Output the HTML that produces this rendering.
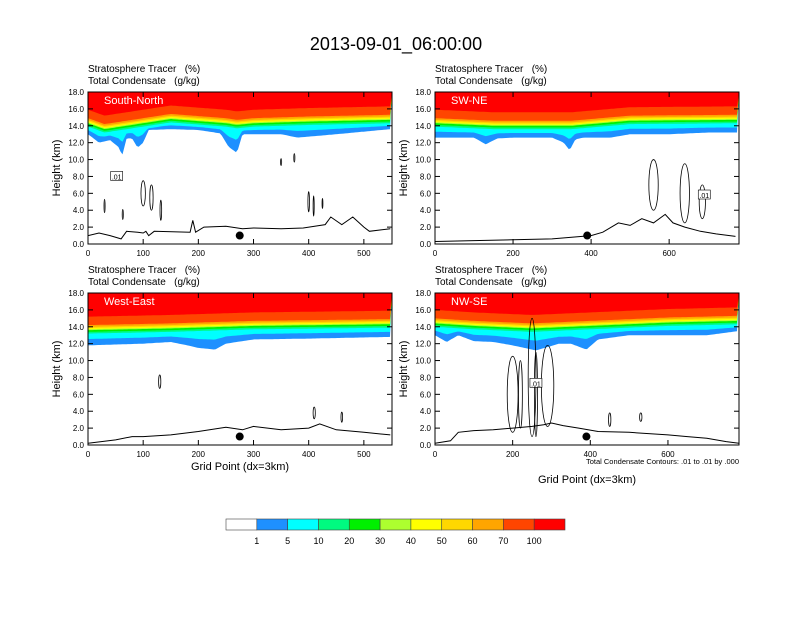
<!DOCTYPE html>
<html><head><meta charset="utf-8">
<style>
body{margin:0;background:#fff;width:792px;height:612px;overflow:hidden}
svg text{font-family:"Liberation Sans",Arial,sans-serif;fill:#000;white-space:pre}
</style></head>
<body>
<svg id="chart" width="792" height="612" viewBox="0 0 792 612" xmlns="http://www.w3.org/2000/svg">
<text x="396" y="50" font-size="18" text-anchor="middle">2013-09-01_06:00:00</text>
</svg>
<script>
const levels=[1,5,10,20,30,40,50,60,70,100];
const colors=["#ffffff","#1e90ff","#00ffff","#00fa80","#00f000","#adff2f","#ffff00","#ffd700","#ffa500","#ff4500","#ff0000"];
const bandOffsets=[0,0,0.3,0.5,0.7,0.82,0.95,1.1,1.3,2.3];
const yTicks=[0,2,4,6,8,10,12,14,16,18];

const tlBlueX=[0,20,40,55,62,70,80,90,100,110,150,200,240,255,270,280,300,350,380,450,548];
const tlBlueH=[13,12,12.3,11.5,10.5,12.5,12.5,11.4,12,13.5,13.6,13.5,13.1,11.5,10.8,13,13,13,12.6,13,13.6];
const tlCoreX=[0,30,60,100,150,250,270,300,400,548];
const tlCoreH=[13.6,12.9,13.2,13.6,14.1,13.6,13.4,13.6,13.8,14];
const tlTerrX=[0,20,40,60,70,90,100,105,110,120,185,190,195,210,250,280,300,350,390,430,440,460,480,500,510,548];
const tlTerrH=[1,1.3,1,0.6,1.5,1.4,1.3,1.5,1,1.5,1.4,2.8,1.4,2,2.1,1.8,1.9,1.8,1.9,2.3,3.2,2.3,3.2,2,1.5,1.8];

const trBlueX=[0,100,130,160,200,300,330,345,360,380,450,500,600,700,770];
const trBlueH=[12.6,12.6,11.8,12.5,12.6,12.6,12,11.1,12.4,12.6,12.6,13,13,13.2,13.2];
const trCoreX=[0,150,350,500,770];
const trCoreH=[13.6,13.3,13.3,13.9,14];
const trTerrX=[0,100,200,300,350,400,430,470,500,530,560,590,610,640,680,720,770];
const trTerrH=[0.3,0.4,0.5,0.6,0.8,1,1.4,2.5,2.2,3,2.5,3.5,2.5,2,1.5,1.2,0.9];

const blBlueX=[0,100,150,180,200,230,250,300,400,548];
const blBlueH=[11.8,12,12.2,11.8,11.5,11.3,12,12.5,12.6,12.8];
const blCoreX=[0,150,300,548];
const blCoreH=[12.9,13.1,13.4,13.6];
const blTerrX=[0,50,80,100,150,200,250,280,300,350,400,420,450,500,548];
const blTerrH=[0.2,0.6,1,1,1.2,1.6,2.1,1.8,2.2,1.8,2,2.5,1.8,1.5,1.2];

const brBlueX=[0,30,60,100,150,200,230,260,290,320,350,390,420,500,600,700,783];
const brBlueH=[13,12.2,13,12.3,12.2,11.8,11.5,11.2,11.6,12,12,11.3,12.5,13,13,13,13.5];
const brCoreX=[0,100,250,400,600,783];
const brCoreH=[13.7,13.4,13.1,13.4,13.8,14];
const brTerrX=[0,40,60,100,150,200,250,280,300,330,370,420,500,600,650,700,750,783];
const brTerrH=[0.2,0.5,1.5,1.7,1.8,2,2.2,2.4,2.6,2.3,2,1.6,1.5,1.2,1,0.8,0.4,0.2];

const panels=[
 {name:"south-north",label:"South-North",x0:88,y0:92,xmax:551,xt:[0,100,200,300,400,500],bx:tlBlueX,bh:tlBlueH,cx:tlCoreX,ch:tlCoreH,tx:tlTerrX,th:tlTerrH,dot:275,
  cont:[[30,4.5,1,0.8],[63,3.5,1,0.6],[100,6,4,1.5],[115,5.5,3,1.5],[132,4,1.5,1.2],[350,9.7,1,0.4],[374,10.2,1,0.5],[400,5,1.4,1.2],[409,4.5,1,1.2],[425,4.8,0.8,0.6]],lab:[52,8]},
 {name:"sw-ne",label:"SW-NE",x0:435,y0:92,xmax:779,xt:[0,200,400,600],bx:trBlueX,bh:trBlueH,cx:trCoreX,ch:trCoreH,tx:trTerrX,th:trTerrH,dot:390,
  cont:[[560,7,12,3],[640,6,12,3.5],[685,5,8,2]],lab:[690,5.8]},
 {name:"west-east",label:"West-East",x0:88,y0:293,xmax:551,xt:[0,100,200,300,400,500],bx:blBlueX,bh:blBlueH,cx:blCoreX,ch:blCoreH,tx:blTerrX,th:blTerrH,dot:275,
  cont:[[130,7.5,2,0.8],[410,3.8,2,0.7],[460,3.3,1.5,0.6]],lab:null},
 {name:"nw-se",label:"NW-SE",x0:435,y0:293,xmax:783,xt:[0,200,400,600],bx:brBlueX,bh:brBlueH,cx:brCoreX,ch:brCoreH,tx:brTerrX,th:brTerrH,dot:390,
  cont:[[200,6,14,4.5],[250,8,10,7],[290,7,16,4.8],[220,6,5,4],[260,6,4,5],[450,3,3,0.8],[530,3.3,3,0.5]],lab:[260,7.3]}
];
const NS="http://www.w3.org/2000/svg";
const svg=document.getElementById('chart');
function mk(tag,attrs,parent){const e=document.createElementNS(NS,tag);for(const k in attrs)e.setAttribute(k,attrs[k]);(parent||svg).appendChild(e);return e;}
function interp(xs,hs,x){if(x<=xs[0])return hs[0];for(let i=1;i<xs.length;i++){if(x<=xs[i]){const t=(x-xs[i-1])/(xs[i]-xs[i-1]);return hs[i-1]+t*(hs[i]-hs[i-1]);}}return hs[hs.length-1];}

panels.forEach(p=>{
 const W=304,H=152;
 const sx=v=>p.x0+v*W/p.xmax, sy=h=>p.y0+H-h*H/18;
 const g=mk('g',{});
 
 
 const clipId='clip-'+p.name;
 const cp=mk('clipPath',{id:clipId},g);mk('rect',{x:p.x0,y:p.y0,width:W,height:H},cp);
 const pg=mk('g',{'clip-path':'url(#'+clipId+')'},g);
 for(let b=0;b<bandOffsets.length;b++){
  let pts=[];
  for(let x=0;x<=p.xmax;x+=p.xmax/150){
   const bb=interp(p.bx,p.bh,x), cc=interp(p.cx,p.ch,x);
   let h = b===0 ? bb : (b===1? Math.min(cc,(bb+cc)/2+0.2) : cc+bandOffsets[b]);
   pts.push(sx(x).toFixed(1)+','+sy(h).toFixed(1));
  }
  pts.push(sx(p.xmax)+','+sy(18));pts.push(sx(0)+','+sy(18));
  const poly=mk('polygon',{points:pts.join(' '),fill:colors[b+1]},pg);
  
  
 }
 p.cont.forEach(c=>{
  const e=mk('ellipse',{cx:sx(c[0]),cy:sy(c[1]),rx:c[2]*W/p.xmax,ry:c[3]*H/18,fill:'none',stroke:'#000','stroke-width':0.8},pg);
  
  
 });
 if(p.lab){const lx=sx(p.lab[0]),ly=sy(p.lab[1]);
  mk('rect',{x:lx-6,y:ly-5,width:12,height:9,fill:'#fff',stroke:'#000','stroke-width':0.6},pg);
  const t=mk('text',{x:lx,y:ly+3,'font-size':7,'text-anchor':'middle'},pg);t.textContent='.01';
  
  }
 let tp=[];p.tx.forEach((x,i)=>tp.push(sx(x).toFixed(1)+','+sy(p.th[i]).toFixed(1)));
 const tl=mk('polyline',{points:tp.join(' '),fill:'none',stroke:'#000','stroke-width':1},pg);
 
 
 const d=mk('circle',{cx:sx(p.dot),cy:sy(1),r:4,fill:'#000'},pg);
 
 
 const lt=mk('text',{x:p.x0+16,y:p.y0+12,'font-size':11,style:'fill:#fff'},g);lt.textContent=p.label;
 
 
 mk('rect',{x:p.x0,y:p.y0,width:W,height:H,fill:'none',stroke:'#000','stroke-width':1},g);
 yTicks.forEach(h=>{const y=sy(h);
  mk('line',{x1:p.x0,x2:p.x0+5,y1:y,y2:y,stroke:'#000'},g);
  mk('line',{x1:p.x0+W,x2:p.x0+W-5,y1:y,y2:y,stroke:'#000'},g);
  const t=mk('text',{x:p.x0-4,y:y+3,'font-size':8,'text-anchor':'end'},g);t.textContent=h.toFixed(1);
  
  });
 p.xt.forEach(v=>{const x=sx(v);
  mk('line',{x1:x,x2:x,y1:p.y0+H,y2:p.y0+H-5,stroke:'#000'},g);
  mk('line',{x1:x,x2:x,y1:p.y0,y2:p.y0+5,stroke:'#000'},g);
  const t=mk('text',{x:x,y:p.y0+H+12,'font-size':8,'text-anchor':'middle'},g);t.textContent=v;
  
  });
 const s1=mk('text',{x:p.x0,y:p.y0-20,'font-size':10},g);s1.textContent='Stratosphere Tracer   (%)';
 
 
 const s2=mk('text',{x:p.x0,y:p.y0-8,'font-size':10},g);s2.textContent='Total Condensate   (g/kg)';
 
 
 const yl=mk('text',{x:0,y:0,'font-size':11,'text-anchor':'middle',transform:'translate('+(p.x0-28)+','+(p.y0+H/2)+') rotate(-90)'},g);yl.textContent='Height (km)';
 
 
});
[[240,470],[587,483]].forEach(a=>{const t=mk('text',{x:a[0],y:a[1],'font-size':11,'text-anchor':'middle'});t.textContent='Grid Point (dx=3km)';
 
 });
const note=mk('text',{x:739,y:464,'font-size':7.5,'text-anchor':'end'});note.textContent='Total Condensate Contours: .01 to .01 by .000';


const cbX=226,cbW=339/11;
colors.forEach((c,i)=>{const r=mk('rect',{x:cbX+i*cbW,y:519,width:cbW,height:11,fill:c,stroke:'#444','stroke-width':0.6});
 
 });
levels.forEach((l,i)=>{const t=mk('text',{x:cbX+(i+1)*cbW,y:544,'font-size':9,'text-anchor':'middle'});t.textContent=l;
 
 });
</script>
</body></html>
